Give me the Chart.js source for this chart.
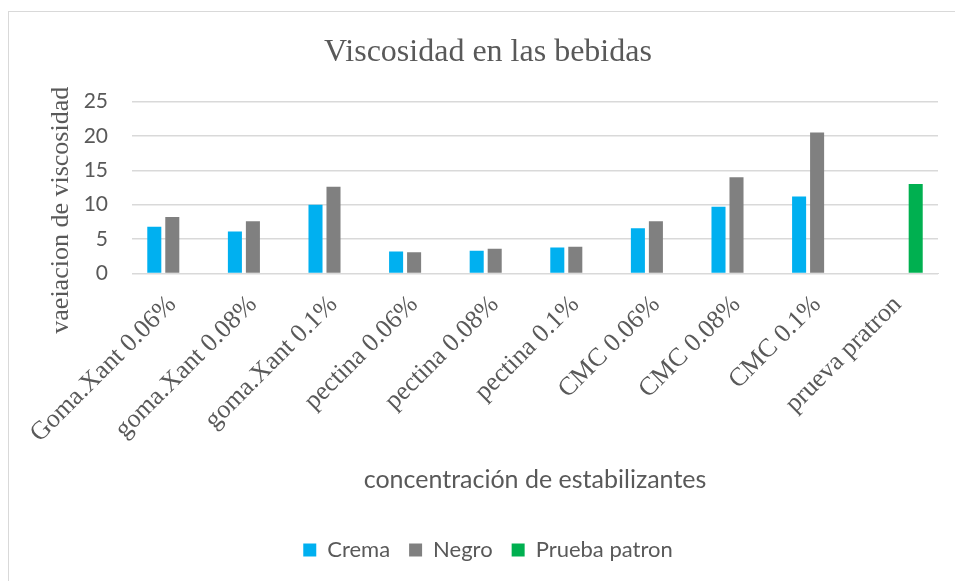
<!DOCTYPE html>
<html>
<head>
<meta charset="utf-8">
<script src="https://cdn.jsdelivr.net/npm/chart.js@4.4.1/dist/chart.umd.min.js"></script>
<style>
  html, body { margin: 0; padding: 0; background: #fff; overflow: hidden; }
  #frame {
    position: absolute; left: 8px; top: 11px;
    width: 960px; height: 570px;
    border-left: 1px solid #d9d9d9; border-top: 1px solid #d9d9d9;
  }
</style>
</head>
<body>
<div id="frame"><canvas id="myChart" width="960" height="570"></canvas></div>
<script>
// concentraciones de estabilizantes
const categorias = ["Goma.Xant 0.06%", "goma.Xant 0.08%", "goma.Xant 0.1%",
  "pectina 0.06%", "pectina 0.08%", "pectina 0.1%",
  "CMC 0.06%", "CMC 0.08%", "CMC 0.1%", "prueva pratron"];

const crema = [6.8, 6.1, 10.0, 3.2, 3.3, 3.8, 6.6, 9.7, 11.2, null];
const negro = [8.2, 7.6, 12.6, 3.1, 3.6, 3.9, 7.6, 14.0, 20.5, null];
const pruebaPatron = [null, null, null, null, null, null, null, null, null, 13.0];

const yTicks = [0, 5, 10, 15, 20, 25];

const gris = '#595959';
const serif = 'Liberation Serif';
const sans = 'Lato';

const ctx = document.getElementById('myChart').getContext('2d');

let myChart = new Chart(ctx, {
  type: 'bar',
  data: {
    labels: categorias,
    datasets: [
      { label: 'Crema', data: crema, backgroundColor: '#00b0f0' },
      { label: 'Negro', data: negro, backgroundColor: '#808080' },
      { label: 'Prueba patron', data: pruebaPatron, backgroundColor: '#00b050' }
    ]
  },
  options: {
    responsive: false,
    animation: false,
    devicePixelRatio: 1,
    layout: { padding: { top: 0, left: 29, right: 31, bottom: 11 } },
    datasets: { bar: { categoryPercentage: 0.67, barPercentage: 0.78, borderWidth: 0 } },
    plugins: {
      title: {
        display: true,
        text: 'Viscosidad en las bebidas',
        color: gris,
        font: { family: serif, size: 32, weight: 'normal' },
        padding: { top: 21, bottom: 30 }
      },
      legend: {
        position: 'bottom',
        labels: {
          color: gris,
          font: { family: sans, size: 22 },
          boxWidth: 13,
          boxHeight: 13,
          padding: 19
        }
      },
      tooltip: { enabled: false }
    },
    scales: {
      x: {
        grid: { display: false },
        border: { color: '#d9d9d9' },
        ticks: {
          color: gris,
          font: { family: serif, size: 26 },
          maxRotation: 45,
          minRotation: 45,
          autoSkip: false,
          padding: 8
        },
        // the slanted first label may run into the left margin
        afterFit: axis => { axis.paddingLeft = 0; },
        title: {
          display: true,
          text: 'concentración de estabilizantes',
          color: gris,
          font: { family: sans, size: 25 },
          padding: { top: 8, bottom: 25 }
        }
      },
      y: {
        min: 0,
        max: 25,
        afterBuildTicks: axis => { axis.ticks = yTicks.map(v => ({ value: v })); },
        // tick padding is counted twice in the axis width, keep it fixed
        afterFit: axis => { axis.width = 94; },
        grid: { color: '#d9d9d9', lineWidth: 1.5, drawTicks: false },
        border: { display: false },
        ticks: {
          color: gris,
          font: { family: sans, size: 21 },
          padding: 24
        },
        title: {
          display: true,
          // trailing spaces push the text down along the axis
          text: 'vaeiacion de viscosidad       ',
          color: gris,
          font: { family: serif, size: 26 },
          padding: { top: 8, bottom: 0 }
        }
      }
    }
  }
});
</script>
</body>
</html>
